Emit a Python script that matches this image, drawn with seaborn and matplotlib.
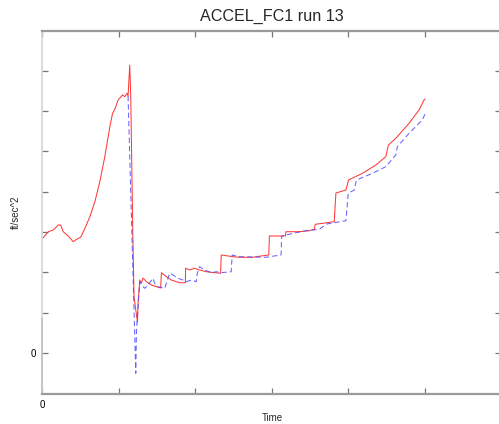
import numpy as np
import pandas as pd
import matplotlib
matplotlib.use('Agg')
import matplotlib.pyplot as plt
import seaborn as sns

# --- data (time in tick units, accel in tick units) ---
red_t = [0.013, 0.082, 0.147, 0.213, 0.244, 0.278, 0.343, 0.408, 0.452, 0.505,
         0.561, 0.626, 0.691, 0.756, 0.821, 0.887, 0.922, 0.952, 0.995, 1.052,
         1.082, 1.112, 1.125, 1.147, 1.160, 1.186, 1.203, 1.226, 1.248, 1.256,
         1.278, 1.300, 1.321, 1.365, 1.430, 1.495, 1.551, 1.561, 1.626, 1.691,
         1.799, 1.874, 1.877, 1.930, 1.995, 2.060, 2.147, 2.256, 2.334, 2.343,
         2.494, 2.581, 2.755, 2.864, 2.964, 2.973, 3.103, 3.181, 3.190, 3.364,
         3.494, 3.559, 3.572, 3.667, 3.820, 3.842, 3.973, 4.007, 4.189, 4.364,
         4.494, 4.528, 4.625, 4.798, 4.928, 4.994, 5.007]
red_a = [2.854, 3.010, 3.052, 3.176, 3.176, 3.010, 2.903, 2.762, 2.821, 2.871,
         3.094, 3.382, 3.754, 4.251, 4.871, 5.615, 5.948, 6.047, 6.278, 6.402,
         6.360, 6.444, 6.377, 7.146, 6.377, 3.052, 1.390, 1.067, 0.769, 1.241,
         1.811, 1.737, 1.861, 1.769, 1.687, 1.645, 1.613, 1.993, 1.893, 1.811,
         1.744, 1.744, 2.102, 2.060, 2.102, 2.060, 2.017, 1.993, 1.978, 2.432,
         2.390, 2.375, 2.375, 2.407, 2.432, 2.903, 2.903, 2.903, 3.010, 3.010,
         3.035, 3.069, 3.194, 3.218, 3.258, 3.970, 4.045, 4.293, 4.459, 4.665,
         4.871, 5.161, 5.328, 5.700, 6.030, 6.278, 6.303]

blue_t = [1.125, 1.226, 1.235, 1.278, 1.300, 1.343, 1.386, 1.451, 1.473, 1.516,
          1.604, 1.669, 1.712, 1.777, 1.842, 1.887, 1.952, 2.017, 2.030, 2.060,
          2.125, 2.213, 2.278, 2.343, 2.473, 2.486, 2.581, 2.930, 2.973, 3.125,
          3.133, 3.190, 3.321, 3.451, 3.625, 3.720, 3.820, 3.973, 4.003, 4.081,
          4.111, 4.319, 4.494, 4.625, 4.645, 4.798, 4.971, 5.007]
blue_a = [6.377, -0.504, 0.571, 1.769, 1.687, 1.605, 1.687, 1.854, 1.730, 1.645,
          1.605, 1.978, 1.935, 1.854, 1.811, 1.769, 1.811, 1.769, 1.978, 2.141,
          2.060, 1.993, 2.017, 1.993, 2.017, 2.432, 2.390, 2.375, 2.390, 2.432,
          2.903, 2.928, 2.985, 3.035, 3.069, 3.201, 3.233, 3.283, 3.963, 4.045,
          4.293, 4.459, 4.623, 4.913, 5.119, 5.452, 5.782, 5.931]

x_ticks = [0, 1, 2, 3, 4, 5, 6]
x_labels = ['0', '', '', '', '', '', '']
y_ticks = [0, 1, 2, 3, 4, 5, 6, 7]
y_labels = ['0', '', '', '', '', '', '', '']

red = pd.DataFrame({'t': red_t, 'a': red_a})
blue = pd.DataFrame({'t': blue_t, 'a': blue_a})

sns.set_style('ticks')
plt.rcParams['font.family'] = ['Liberation Sans', 'DejaVu Sans']

fig = plt.figure(figsize=(4.99, 4.24), dpi=100)
ax = fig.add_axes([42 / 499, 30 / 424, 459 / 499, 363 / 424])

sns.lineplot(data=red, x='t', y='a', sort=False, estimator=None, ax=ax,
             color='#ff3a3a', linewidth=0.75)
ax.plot(blue['t'], blue['a'], color='#4a4aff', linewidth=0.75, alpha=0.85,
        dashes=(5, 3))

ax.set_xlim(0, 459 / 76.7)
ax.set_ylim(-41 / 40.3, 322 / 40.3)
ax.set_xticks(x_ticks)
ax.set_xticklabels(x_labels)
ax.set_yticks(y_ticks)
ax.set_yticklabels(y_labels)
ax.tick_params(direction='in', length=4, width=0.9, colors='#777777',
               labelcolor='black', labelsize=7, top=True, right=True, pad=4)

for side in ['top', 'bottom']:
    ax.spines[side].set_color('#9a9a9a')
    ax.spines[side].set_linewidth(1.6)
ax.spines['left'].set_color('#d6d6d6')
ax.spines['left'].set_linewidth(1.2)
ax.spines['right'].set_color('#9a9a9a')
# darker lower piece of the left frame line
ax.axvline(0, ymin=0, ymax=75 / 363, color='#707070', linewidth=1.4, clip_on=False)

ax.set_title('ACCEL_FC1 run 13', fontsize=11.6, pad=7)
ax.set_xlabel('Time', fontsize=7)
ax.set_ylabel('ft/sec^2', fontsize=7)
ax.xaxis.set_label_coords(0.501, -0.052)
ax.yaxis.set_label_coords(-0.046, 0.5)

fig.savefig('out.png', dpi=100, facecolor='white')
